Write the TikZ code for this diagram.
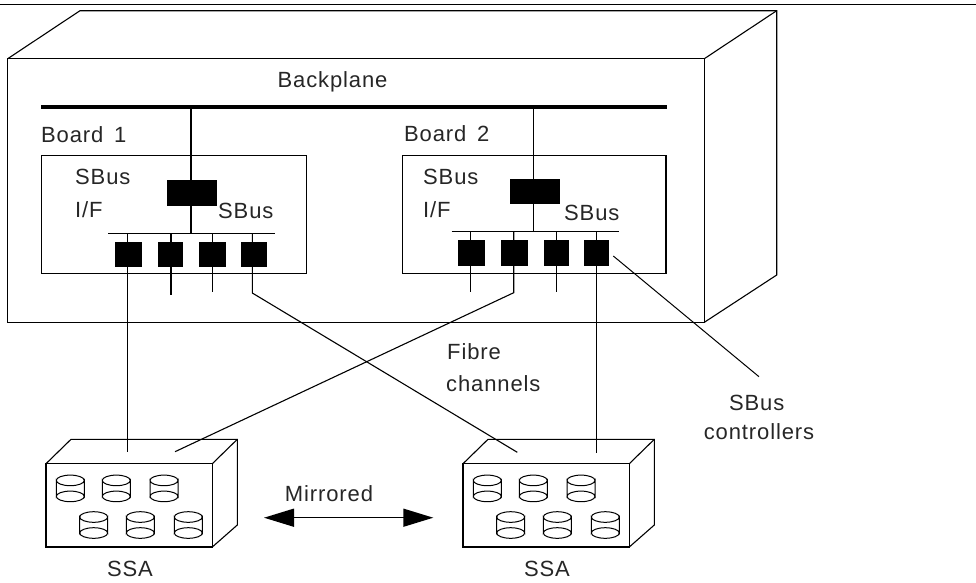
\documentclass[tikz,border=0pt]{standalone}
\usepackage{fontspec}
\setmainfont[LetterSpace=4]{Liberation Sans}
\usetikzlibrary{arrows.meta}
\tikzset{
  lbl/.style={inner sep=0pt, font=\fontsize{22}{26}\selectfont, text=black!85},
  chip/.style={draw, fill=black, inner sep=0pt, minimum height=24.5pt},
  board/.style={draw, line width=1.1pt, inner sep=0pt, minimum height=118.7pt},
  lead/.style={line width=1.1pt},
  disk/.pic={
    \draw[line width=1pt] (-14,-8) arc (180:0:14 and 5.3) -- (14,8) arc (0:-180:14 and 5.3) -- cycle;
    \draw[line width=1pt] (-14,-8) arc (180:360:14 and 5.3);
    \draw[line width=1pt] (-14,8) arc (180:0:14 and 5.3);
  },
  ssabox/.pic={
    \draw[line width=1.1pt] (0,463.7) rectangle (166.3,547) ;
    \draw[line width=1.1pt] (0,463.7) -- (25,439.3) -- (191.3,439.3) -- (191.3,525) -- (166.3,547) ;
    \draw[line width=1.1pt] (166.3,463.7) -- (191.3,439.3) ;
    \pic at (24.3,488.4) {disk} ;
    \pic at (70.3,488.4) {disk} ;
    \pic at (118,488.4) {disk} ;
    \pic at (47.7,525) {disk} ;
    \pic at (94.3,525) {disk} ;
    \pic at (142.3,525) {disk} ;
  }
}
\begin{document}
\begin{tikzpicture}[x=1pt, y=-1pt]
  \useasboundingbox (0,0) rectangle (976,582) ;
  \draw[line width=1.4pt] (0,4.6) -- (976,4.6) ;
  % cabinet
  \draw[line width=1.1pt] (7.7,58.7) rectangle (704.3,322.3) ;
  \draw[line width=1.1pt] (7.7,58.7) -- (80,10.7) -- (776.7,10.7) -- (776.7,275) -- (704.3,322.3) ;
  \draw[line width=1.1pt] (704.3,58.7) -- (776.7,10.7) ;
  \node[lbl] (backplane) at (332.5,82) {Backplane} ;
  \coordinate (planeL) at (41,107.3) ;
  \coordinate (planeR) at (666.7,107.3) ;
  \draw[line width=4pt] (planeL) -- (planeR) ;
  % boards
  \node[board, minimum width=265.5pt] (board1) at (173.8,214.4) {} ;
  \node[board, minimum width=263.3pt] (board2) at (534.3,214.4) {} ;
  \node[lbl, anchor=west] (title1) at (41,135) {Board\, 1} ;
  \node[lbl, anchor=west] (title2) at (404,134) {Board\, 2} ;
  \node[chip, minimum width=49.3pt] (ifchip1) at (191.6,192.9) {} ;
  \node[chip, minimum width=49pt] (ifchip2) at (534.5,191.3) {} ;
  \node[lbl, anchor=west] (sbusA1) at (75,177) {SBus} ;
  \node[lbl, anchor=west] (ifA1) at (75,210) {I/F} ;
  \node[lbl, anchor=west] (sbusB1) at (218,211) {SBus} ;
  \node[lbl, anchor=west] (sbusA2) at (423,177) {SBus} ;
  \node[lbl, anchor=west] (ifA2) at (423,210) {I/F} ;
  \node[lbl, anchor=west] (sbusB2) at (564,213) {SBus} ;
  % bus lines
  \coordinate (bus1L) at (108.3,233.7) ;
  \coordinate (bus1R) at (275,233.7) ;
  \coordinate (bus2L) at (451.7,231.7) ;
  \coordinate (bus2R) at (619,231.7) ;
  \draw[lead] (bus1L) -- (bus1R) ;
  \draw[lead] (bus2L) -- (bus2R) ;
  \draw[lead] (191,107.3) -- (191,233.7) ;
  \draw[lead] (533.7,107.3) -- (533.7,231.7) ;
  % controllers
  \foreach \cx/\cw/\nm in {127.7/26/a,170/24.6/b,212.3/26/c,253.2/25/d} {
    \node[chip, minimum width=\cw pt] (ctl1\nm) at (\cx,254.4) {} ;
  }
  \foreach \cx/\cw/\nm in {470.7/26/a,513.7/26/b,556/24.6/c,596/24.6/d} {
    \node[chip, minimum width=\cw pt] (ctl2\nm) at (\cx,252.7) {} ;
  }
  \draw[lead] (127.7,233.7) -- (127.7,452.3) ;
  \draw[lead] (171,233.7) -- (171,295.3) ;
  \draw[lead] (212.3,233.7) -- (212.3,292.3) ;
  \draw[lead] (252.3,233.7) -- (252.3,293) -- (517.3,452.3) ;
  \draw[lead] (470.3,231.7) -- (470.3,292.3) ;
  \draw[lead] (513.7,231.7) -- (513.7,292.7) -- (175,451.7) ;
  \draw[lead] (556.7,231.7) -- (556.7,292.3) ;
  \draw[lead] (596.7,231.7) -- (596.7,453.3) ;
  \coordinate (ptrA) at (613.3,256) ;
  \coordinate (ptrB) at (759,376.7) ;
  \draw[line width=1pt] (ptrA) -- (ptrB) ;
  \node[lbl, anchor=west] (fibre) at (447,352) {Fibre} ;
  \node[lbl, anchor=west] (channels) at (446,384) {channels} ;
  \node[lbl] (ctlname) at (756.7,403) {SBus} ;
  \node[lbl] (ctlname2) at (759,432) {controllers} ;
  % arrays
  \pic at (46,0) {ssabox} ;
  \pic at (463,0) {ssabox} ;
  \node[lbl] (ssa1) at (130,569) {SSA} ;
  \node[lbl] (ssa2) at (547,569) {SSA} ;
  \node[lbl] (mirror) at (329,494) {Mirrored} ;
  \coordinate (mirL) at (264,517.7) ;
  \coordinate (mirR) at (433.3,517.7) ;
  \draw[{Triangle[length=30pt,width=18pt]}-{Triangle[length=30pt,width=18pt]}, line width=1.4pt] (mirL) -- (mirR) ;
\end{tikzpicture}
\end{document}
